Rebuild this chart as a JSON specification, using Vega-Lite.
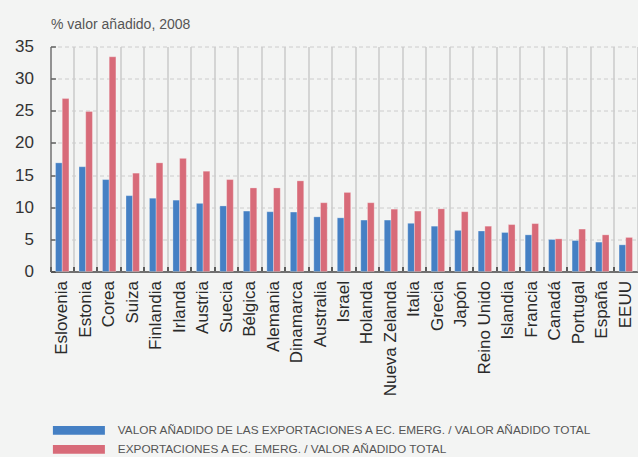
{
  "$schema": "https://vega.github.io/schema/vega-lite/v6.json",
  "width": 587,
  "height": 225,
  "autosize": {"type": "none"},
  "padding": {"left": 50.5, "top": 46.5, "right": 0.5, "bottom": 185.5},
  "background": "#f3f4f3",
  "config": {"view": {"stroke": null}, "font": "Liberation Sans"},
  "data": {
    "values": [
      {"pais": "Eslovenia", "serie": "VALOR AÑADIDO DE LAS EXPORTACIONES A EC. EMERG. / VALOR AÑADIDO TOTAL", "valor": 16.9},
      {"pais": "Eslovenia", "serie": "EXPORTACIONES A EC. EMERG. / VALOR AÑADIDO TOTAL", "valor": 26.9},
      {"pais": "Estonia", "serie": "VALOR AÑADIDO DE LAS EXPORTACIONES A EC. EMERG. / VALOR AÑADIDO TOTAL", "valor": 16.3},
      {"pais": "Estonia", "serie": "EXPORTACIONES A EC. EMERG. / VALOR AÑADIDO TOTAL", "valor": 24.9},
      {"pais": "Corea", "serie": "VALOR AÑADIDO DE LAS EXPORTACIONES A EC. EMERG. / VALOR AÑADIDO TOTAL", "valor": 14.3},
      {"pais": "Corea", "serie": "EXPORTACIONES A EC. EMERG. / VALOR AÑADIDO TOTAL", "valor": 33.4},
      {"pais": "Suiza", "serie": "VALOR AÑADIDO DE LAS EXPORTACIONES A EC. EMERG. / VALOR AÑADIDO TOTAL", "valor": 11.8},
      {"pais": "Suiza", "serie": "EXPORTACIONES A EC. EMERG. / VALOR AÑADIDO TOTAL", "valor": 15.3},
      {"pais": "Finlandia", "serie": "VALOR AÑADIDO DE LAS EXPORTACIONES A EC. EMERG. / VALOR AÑADIDO TOTAL", "valor": 11.4},
      {"pais": "Finlandia", "serie": "EXPORTACIONES A EC. EMERG. / VALOR AÑADIDO TOTAL", "valor": 16.9},
      {"pais": "Irlanda", "serie": "VALOR AÑADIDO DE LAS EXPORTACIONES A EC. EMERG. / VALOR AÑADIDO TOTAL", "valor": 11.1},
      {"pais": "Irlanda", "serie": "EXPORTACIONES A EC. EMERG. / VALOR AÑADIDO TOTAL", "valor": 17.6},
      {"pais": "Austria", "serie": "VALOR AÑADIDO DE LAS EXPORTACIONES A EC. EMERG. / VALOR AÑADIDO TOTAL", "valor": 10.6},
      {"pais": "Austria", "serie": "EXPORTACIONES A EC. EMERG. / VALOR AÑADIDO TOTAL", "valor": 15.6},
      {"pais": "Suecia", "serie": "VALOR AÑADIDO DE LAS EXPORTACIONES A EC. EMERG. / VALOR AÑADIDO TOTAL", "valor": 10.2},
      {"pais": "Suecia", "serie": "EXPORTACIONES A EC. EMERG. / VALOR AÑADIDO TOTAL", "valor": 14.3},
      {"pais": "Bélgica", "serie": "VALOR AÑADIDO DE LAS EXPORTACIONES A EC. EMERG. / VALOR AÑADIDO TOTAL", "valor": 9.4},
      {"pais": "Bélgica", "serie": "EXPORTACIONES A EC. EMERG. / VALOR AÑADIDO TOTAL", "valor": 13.0},
      {"pais": "Alemania", "serie": "VALOR AÑADIDO DE LAS EXPORTACIONES A EC. EMERG. / VALOR AÑADIDO TOTAL", "valor": 9.3},
      {"pais": "Alemania", "serie": "EXPORTACIONES A EC. EMERG. / VALOR AÑADIDO TOTAL", "valor": 13.0},
      {"pais": "Dinamarca", "serie": "VALOR AÑADIDO DE LAS EXPORTACIONES A EC. EMERG. / VALOR AÑADIDO TOTAL", "valor": 9.25},
      {"pais": "Dinamarca", "serie": "EXPORTACIONES A EC. EMERG. / VALOR AÑADIDO TOTAL", "valor": 14.1},
      {"pais": "Australia", "serie": "VALOR AÑADIDO DE LAS EXPORTACIONES A EC. EMERG. / VALOR AÑADIDO TOTAL", "valor": 8.5},
      {"pais": "Australia", "serie": "EXPORTACIONES A EC. EMERG. / VALOR AÑADIDO TOTAL", "valor": 10.7},
      {"pais": "Israel", "serie": "VALOR AÑADIDO DE LAS EXPORTACIONES A EC. EMERG. / VALOR AÑADIDO TOTAL", "valor": 8.35},
      {"pais": "Israel", "serie": "EXPORTACIONES A EC. EMERG. / VALOR AÑADIDO TOTAL", "valor": 12.3},
      {"pais": "Holanda", "serie": "VALOR AÑADIDO DE LAS EXPORTACIONES A EC. EMERG. / VALOR AÑADIDO TOTAL", "valor": 8.0},
      {"pais": "Holanda", "serie": "EXPORTACIONES A EC. EMERG. / VALOR AÑADIDO TOTAL", "valor": 10.7},
      {"pais": "Nueva Zelanda", "serie": "VALOR AÑADIDO DE LAS EXPORTACIONES A EC. EMERG. / VALOR AÑADIDO TOTAL", "valor": 8.0},
      {"pais": "Nueva Zelanda", "serie": "EXPORTACIONES A EC. EMERG. / VALOR AÑADIDO TOTAL", "valor": 9.7},
      {"pais": "Italia", "serie": "VALOR AÑADIDO DE LAS EXPORTACIONES A EC. EMERG. / VALOR AÑADIDO TOTAL", "valor": 7.5},
      {"pais": "Italia", "serie": "EXPORTACIONES A EC. EMERG. / VALOR AÑADIDO TOTAL", "valor": 9.4},
      {"pais": "Grecia", "serie": "VALOR AÑADIDO DE LAS EXPORTACIONES A EC. EMERG. / VALOR AÑADIDO TOTAL", "valor": 7.05},
      {"pais": "Grecia", "serie": "EXPORTACIONES A EC. EMERG. / VALOR AÑADIDO TOTAL", "valor": 9.75},
      {"pais": "Japón", "serie": "VALOR AÑADIDO DE LAS EXPORTACIONES A EC. EMERG. / VALOR AÑADIDO TOTAL", "valor": 6.4},
      {"pais": "Japón", "serie": "EXPORTACIONES A EC. EMERG. / VALOR AÑADIDO TOTAL", "valor": 9.3},
      {"pais": "Reino Unido", "serie": "VALOR AÑADIDO DE LAS EXPORTACIONES A EC. EMERG. / VALOR AÑADIDO TOTAL", "valor": 6.3},
      {"pais": "Reino Unido", "serie": "EXPORTACIONES A EC. EMERG. / VALOR AÑADIDO TOTAL", "valor": 7.05},
      {"pais": "Islandia", "serie": "VALOR AÑADIDO DE LAS EXPORTACIONES A EC. EMERG. / VALOR AÑADIDO TOTAL", "valor": 6.07},
      {"pais": "Islandia", "serie": "EXPORTACIONES A EC. EMERG. / VALOR AÑADIDO TOTAL", "valor": 7.3},
      {"pais": "Francia", "serie": "VALOR AÑADIDO DE LAS EXPORTACIONES A EC. EMERG. / VALOR AÑADIDO TOTAL", "valor": 5.7},
      {"pais": "Francia", "serie": "EXPORTACIONES A EC. EMERG. / VALOR AÑADIDO TOTAL", "valor": 7.45},
      {"pais": "Canadá", "serie": "VALOR AÑADIDO DE LAS EXPORTACIONES A EC. EMERG. / VALOR AÑADIDO TOTAL", "valor": 4.98},
      {"pais": "Canadá", "serie": "EXPORTACIONES A EC. EMERG. / VALOR AÑADIDO TOTAL", "valor": 5.08},
      {"pais": "Portugal", "serie": "VALOR AÑADIDO DE LAS EXPORTACIONES A EC. EMERG. / VALOR AÑADIDO TOTAL", "valor": 4.82},
      {"pais": "Portugal", "serie": "EXPORTACIONES A EC. EMERG. / VALOR AÑADIDO TOTAL", "valor": 6.6},
      {"pais": "España", "serie": "VALOR AÑADIDO DE LAS EXPORTACIONES A EC. EMERG. / VALOR AÑADIDO TOTAL", "valor": 4.57},
      {"pais": "España", "serie": "EXPORTACIONES A EC. EMERG. / VALOR AÑADIDO TOTAL", "valor": 5.7},
      {"pais": "EEUU", "serie": "VALOR AÑADIDO DE LAS EXPORTACIONES A EC. EMERG. / VALOR AÑADIDO TOTAL", "valor": 4.15},
      {"pais": "EEUU", "serie": "EXPORTACIONES A EC. EMERG. / VALOR AÑADIDO TOTAL", "valor": 5.3}
    ]
  },
  "layer": [
    {
      "mark": {"type": "bar", "stroke": "#ffffff", "strokeOpacity": 0.35, "strokeWidth": 0.8},
      "encoding": {
        "x": {
          "field": "pais", "type": "nominal", "sort": null,
          "scale": {"paddingInner": 0, "paddingOuter": 0},
          "axis": {
            "title": null, "bandPosition": 0, "labelAngle": -90,
            "labelFont": "Liberation Sans", "labelFontSize": 17, "labelColor": "#2a2a2a",
            "labelPadding": 14, "tickSize": -5, "tickColor": "#333333", "tickWidth": 1.5,
            "domainColor": "#707070", "domainWidth": 2,
            "grid": true, "gridColor": "#b5b5b5", "gridWidth": 1
          }
        },
        "xOffset": {"field": "serie", "sort": null, "scale": {"paddingInner": 0, "paddingOuter": 0.75}},
        "y": {
          "field": "valor", "type": "quantitative",
          "scale": {"domain": [0, 35], "nice": false},
          "axis": {
            "values": [0, 5, 10, 15, 20, 25, 30, 35],
            "title": "% valor añadido, 2008", "titleAngle": 0, "titleX": 0, "titleY": -18,
            "titleAlign": "left", "titleBaseline": "alphabetic", "titleFontSize": 14,
            "titleFontWeight": "normal", "titleColor": "#555555", "titleFont": "Liberation Sans",
            "labelFontSize": 17, "labelColor": "#333333", "labelFont": "Liberation Sans",
            "tickSize": -5, "tickColor": "#444444", "tickWidth": 1.2, "labelPadding": 22,
            "grid": true, "gridDash": [4, 3], "gridColor": "#cccccc", "gridWidth": 1,
            "domainColor": "#666666", "domainWidth": 1.2
          }
        },
        "color": {
          "field": "serie", "type": "nominal", "sort": null,
          "scale": {"range": ["#4580c4", "#d86b79"]},
          "legend": {
            "orient": "none", "legendX": 22.5, "legendY": 378, "direction": "vertical",
            "title": null, "symbolType": "M-5.2,-0.87H5.2V0.87H-5.2Z", "symbolSize": 100,
            "symbolStrokeWidth": 0, "labelFont": "Liberation Sans", "labelFontSize": 11.8,
            "labelColor": "#555555", "labelLimit": 620, "rowPadding": 6, "labelOffset": 33
          }
        }
      }
    },
    {
      "mark": {"type": "rule", "opacity": 0},
      "encoding": {
        "y": {
          "field": "valor", "type": "quantitative",
          "axis": {"orient": "right", "labels": false, "ticks": false, "grid": false, "title": null, "domainColor": "#b5b5b5", "domainWidth": 1}
        }
      }
    }
  ],
  "resolve": {"axis": {"y": "independent"}}
}
